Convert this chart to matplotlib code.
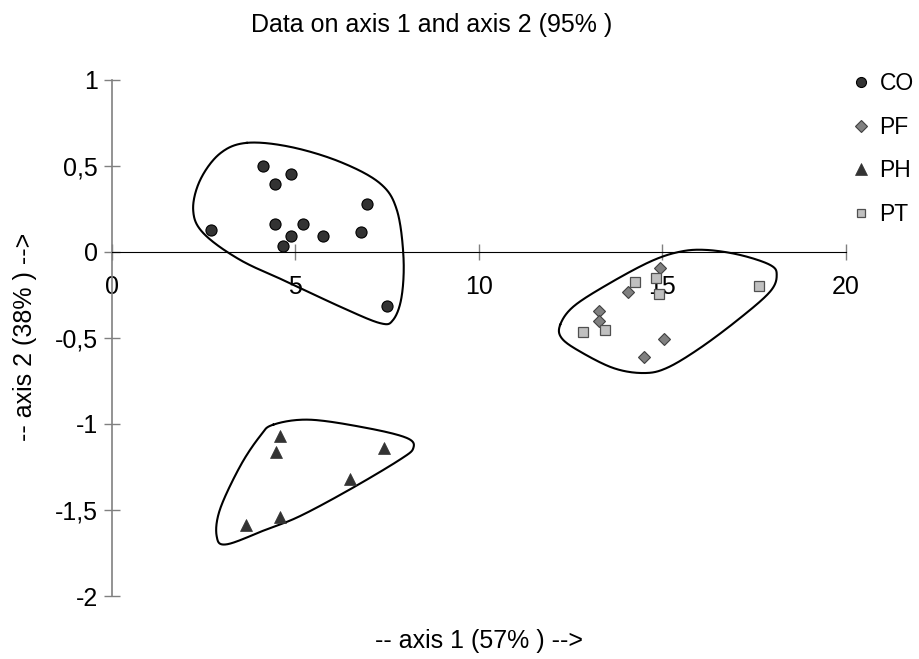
import numpy as np
import matplotlib
matplotlib.use("Agg")
import matplotlib.pyplot as plt

plt.rcParams['font.family'] = ['Liberation Sans', 'DejaVu Sans']

# scores on axis 1 / axis 2
co_x = [4.11, 4.89, 4.44, 6.96, 2.70, 4.44, 5.21, 4.89, 5.75, 6.78, 4.66, 7.49]
co_y = [0.499, 0.452, 0.392, 0.278, 0.128, 0.161, 0.161, 0.091, 0.091, 0.114, 0.033, -0.313]

pf_x = [14.94, 14.06, 13.29, 13.29, 15.04, 14.50]
pf_y = [-0.096, -0.232, -0.344, -0.402, -0.506, -0.610]

ph_x = [4.59, 4.48, 7.41, 6.49, 4.59, 3.66]
ph_y = [-1.068, -1.163, -1.140, -1.323, -1.542, -1.588]

pt_x = [14.26, 14.83, 14.91, 17.63, 12.83, 13.43]
pt_y = [-0.176, -0.151, -0.245, -0.199, -0.466, -0.454]

# hand drawn group outlines (data units)
hull1_x = [3.68, 4.86, 6.22, 7.31, 7.77, 7.95, 7.90, 7.67, 7.31, 6.22, 4.86, 3.50, 2.50, 2.22, 2.41, 2.95]
hull1_y = [0.632, 0.609, 0.522, 0.397, 0.242, -0.029, -0.261, -0.396, -0.415, -0.319, -0.183, -0.048, 0.107, 0.242, 0.416, 0.570]

hull2_x = [12.22, 12.58, 13.49, 14.67, 15.49, 16.21, 17.12, 17.94, 18.12, 17.94, 17.12, 16.03, 15.12, 14.48, 13.67, 12.76, 12.26]
hull2_y = [-0.425, -0.319, -0.193, -0.058, 0.0, 0.010, -0.019, -0.077, -0.135, -0.232, -0.386, -0.560, -0.676, -0.705, -0.676, -0.580, -0.502]

hull3_x = [4.40, 5.40, 6.95, 8.04, 8.22, 7.86, 6.49, 5.13, 4.22, 3.13, 2.86, 2.95, 3.50, 4.04]
hull3_y = [-1.005, -0.976, -1.024, -1.082, -1.140, -1.207, -1.381, -1.536, -1.613, -1.700, -1.652, -1.497, -1.246, -1.072]

x_ticks = [0, 5, 10, 15, 20]
y_ticks = [1, 0.5, 0, -0.5, -1, -1.5, -2]
y_tick_labels = ['1', '0,5', '0', '-0,5', '-1', '-1,5', '-2']


def smooth_loop(xs, ys, n=30):
    # closed Catmull-Rom curve through the outline points
    pts = np.column_stack([xs, ys])
    m = len(pts)
    t = np.linspace(0, 1, n, endpoint=False)[:, None]
    out = []
    for i in range(m):
        p0, p1, p2, p3 = pts[(i - 1) % m], pts[i], pts[(i + 1) % m], pts[(i + 2) % m]
        out.append(0.5 * (2 * p1 + (-p0 + p2) * t + (2 * p0 - 5 * p1 + 4 * p2 - p3) * t ** 2
                          + (-p0 + 3 * p1 - 3 * p2 + p3) * t ** 3))
    out = np.vstack(out)
    return np.vstack([out, out[:1]])


fig = plt.figure(figsize=(9.19, 6.59), dpi=100)
ax = fig.add_axes([111.7 / 919, 1 - 596 / 659, 734 / 919, 516.5 / 659])

for hx, hy in [(hull1_x, hull1_y), (hull2_x, hull2_y), (hull3_x, hull3_y)]:
    loop = smooth_loop(hx, hy)
    ax.plot(loop[:, 0], loop[:, 1], color='black', lw=1.5, zorder=2)

ax.plot(co_x, co_y, 'o', ms=8, mfc='#333333', mec='black', mew=0.8, label='CO', zorder=3)
ax.plot(pf_x, pf_y, 'D', ms=6.5, mfc='#808080', mec='#404040', mew=0.8, label='PF', zorder=3)
ax.plot(ph_x, ph_y, '^', ms=9, mfc='#333333', mec='#333333', mew=0.5, label='PH', zorder=3)
ax.plot(pt_x, pt_y, 's', ms=7, mfc='#c0c0c0', mec='#505050', mew=0.9, label='PT', zorder=3)

ax.set_xlim(0, 20)
ax.set_ylim(-2, 1)
ax.spines['top'].set_visible(False)
ax.spines['right'].set_visible(False)
ax.spines['bottom'].set_position(('data', 0))
ax.spines['bottom'].set_color('black')
ax.spines['left'].set_color('#808080')
ax.spines['left'].set_linewidth(1.2)
ax.patch.set_alpha(0)

ax.set_xticks(x_ticks)
ax.set_xticklabels([str(v) for v in x_ticks])
ax.set_yticks(y_ticks)
ax.set_yticklabels(y_tick_labels)
ax.tick_params(direction='inout', length=12, width=1, color='#808080', labelsize=18)
ax.tick_params(axis='x', pad=11)
ax.tick_params(axis='y', pad=4)

fig.text(432 / 919, 1 - 32 / 659, 'Data on axis 1 and axis 2 (95% )', ha='center', va='baseline', fontsize=18)
fig.text(478.7 / 919, 1 - 648 / 659, '-- axis 1 (57% ) -->', ha='center', va='baseline', fontsize=18)
fig.text(25 / 919, 1 - 337 / 659, '-- axis 2 (38% ) -->', ha='center', va='center', rotation=90, fontsize=18)

fig.legend(loc='upper left', bbox_to_anchor=(852 / 919, 1 - 72 / 659), frameon=False, fontsize=16.5,
           handlelength=0.8, handletextpad=0.4, borderpad=0, borderaxespad=0, labelspacing=0.9,
           markerscale=0.9)

fig.savefig('out.png', dpi=100)
